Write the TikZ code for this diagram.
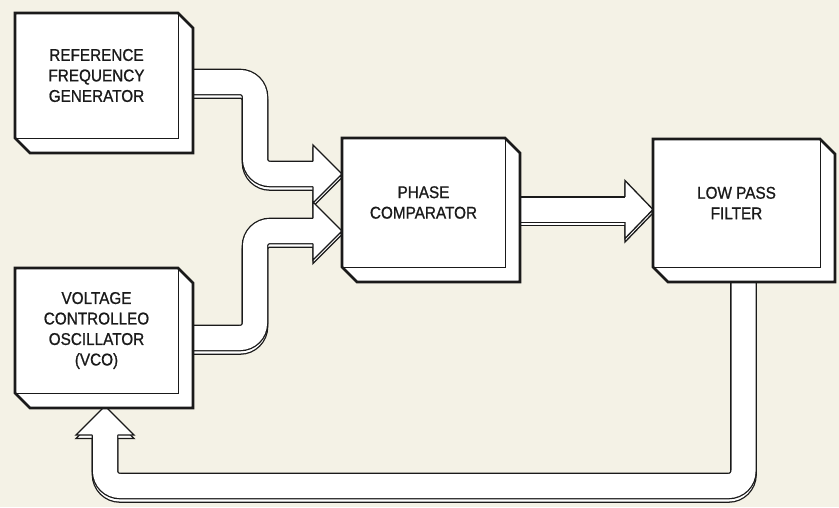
\documentclass[tikz,border=0pt]{standalone}
\usepackage{fontspec}
\newfontfamily\blockfont[FakeStretch=0.9,FakeBold=0.9]{Liberation Sans}
\usetikzlibrary{calc}
\pgfdeclarelayer{bg}
\pgfsetlayers{bg,main}
\definecolor{paperCream}{HTML}{F4F2E6}
\definecolor{inkBlack}{HTML}{1A1A1A}

\tikzset{
  blockface/.style={fill=white, minimum width=163pt, minimum height=125pt,
    inner sep=0pt, outer sep=0pt, align=center, text=inkBlack,
    font=\blockfont\fontsize{17}{20.5}\selectfont},
  band/.style={draw=inkBlack, line width=1.3pt, double=white,
    double distance=24pt, rounded corners=15pt},
  headline/.style={draw=inkBlack, line width=1.3pt, line join=miter},
  rim/.style={draw=inkBlack, line width=2.6pt, line join=miter},
}

% hollow arrow head: back point, tip
\newcommand{\hollowhead}[2]{%
  \fill[white] ($(#1)!29pt!90:(#2)$) -- (#2) -- ($(#1)!29pt!-90:(#2)$) -- cycle;
  \draw[headline] ($(#1)!12.65pt!90:(#2)$) -- ($(#1)!29pt!90:(#2)$) -- (#2)
    -- ($(#1)!29pt!-90:(#2)$) -- ($(#1)!12.65pt!-90:(#2)$);
}

\begin{document}
\begin{tikzpicture}[x=1pt,y=-1pt]
\begin{pgfonlayer}{bg}
\fill[paperCream] (0,0) rectangle (839,507);
\end{pgfonlayer}
\useasboundingbox (0,0) rectangle (839,507);
% blocks
\node[blockface] (ref) at (96.5,75.5) {REFERENCE\\FREQUENCY\\GENERATOR};
\node[blockface] (vco) at (96.5,330.5) {VOLTAGE\\CONTROLLEO\\OSCILLATOR\\(VCO)};
\node[blockface, minimum height=129pt] (pc) at (423.5,202.5) {PHASE\\COMPARATOR};
\node[blockface, minimum width=167pt, minimum height=128pt] (lpf) at (736.5,203) {LOW PASS\\FILTER};
% depth of the blocks
\foreach \b in {ref,vco,pc,lpf} {
  \fill[white] (\b.north east) -- ++(15,15) -- ($(\b.south east)+(15,15)$)
    -- ($(\b.south west)+(15,15)$) -- (\b.south west) -- (\b.south east) -- cycle;
  \draw[inkBlack, line width=1pt] (\b.north east) -- (\b.south east) -- (\b.south west);
  \draw[rim] (\b.north west) -- (\b.north east) -- ++(15,15) -- ($(\b.south east)+(15,15)$)
    -- ($(\b.south west)+(15,15)$) -- (\b.south west) -- cycle;
}
% arrow ends
\coordinate (s1) at ($(ref.east)+(7,6.5)$);
\coordinate (p1) at ($(pc.west)+(0,-28.5)$);
\coordinate (b1) at ($(p1)+(-29,0)$);
\coordinate (e1) at ($(p1)+(-27,0)$);
\coordinate (s2) at ($(vco.east)+(7,7.5)$);
\coordinate (p2) at ($(pc.west)+(0,28.5)$);
\coordinate (b2) at ($(p2)+(-29,0)$);
\coordinate (e2) at ($(p2)+(-27,0)$);
\coordinate (s3) at ($(pc.east)+(10,7)$);
\coordinate (p3) at ($(lpf.west)+(0,6.5)$);
\coordinate (b3) at ($(p3)+(-28,0)$);
\coordinate (e3) at ($(p3)+(-26,0)$);
\coordinate (s4) at ($(lpf.south)+(7,8)$);
\coordinate (p4) at ($(vco.south)+(8.5,13)$);
\coordinate (b4) at ($(p4)+(0,29)$);
\coordinate (e4) at ($(p4)+(0,27)$);
% hollow arrows, shadow first
\begin{pgfonlayer}{bg}
\foreach \dy in {-3.5,0} {
  \begin{scope}[transform canvas={yshift=\dy pt}]
  \draw[band] (s1) -- ++(70,0) |- (e1);
  \draw[band] (s2) -- ++(70,0) |- (e2);
  \draw[band] (s3) -- (e3);
  \draw[band] (s4) -- ++(0,211) -| (e4);
  \hollowhead{b1}{p1}
  \hollowhead{b2}{p2}
  \hollowhead{b3}{p3}
  \hollowhead{b4}{p4}
  \end{scope}
}
\end{pgfonlayer}
\end{tikzpicture}
\end{document}
